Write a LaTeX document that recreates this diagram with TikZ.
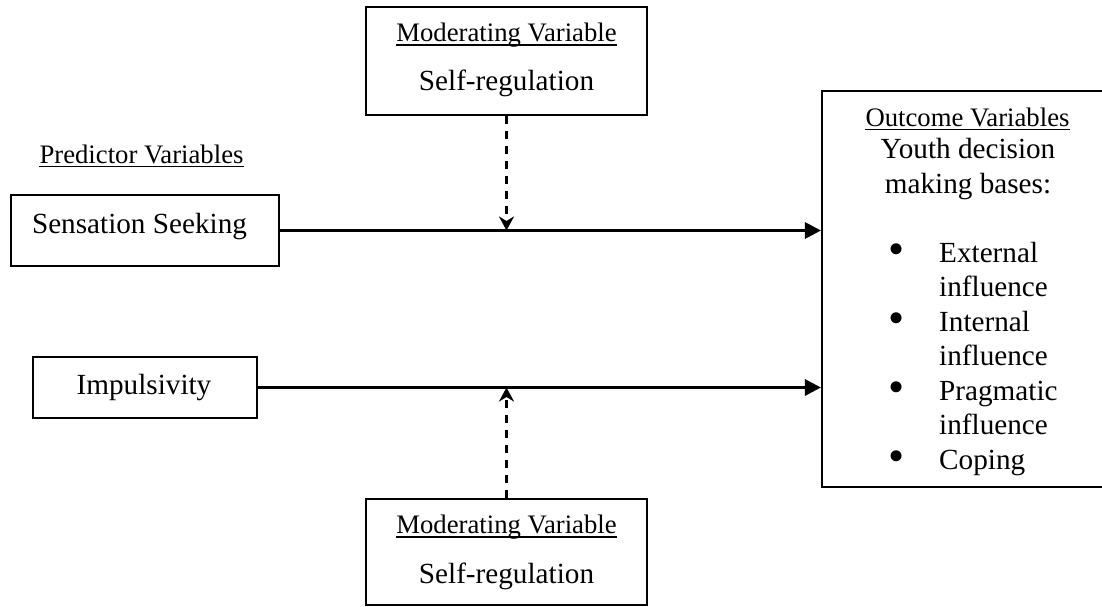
\documentclass[tikz,border=0pt]{standalone}
\usepackage{fontspec}
\setmainfont{Liberation Serif}
\usetikzlibrary{arrows.meta}
\begin{document}
\begin{tikzpicture}[x=1pt,y=-1pt,
  box/.style={draw=black,line width=2.1pt,rectangle,inner sep=0pt},
  big/.style={font=\fontsize{29.2pt}{34.5pt}\selectfont,inner sep=0pt,anchor=base},
  small/.style={font=\fontsize{26.7pt}{31pt}\selectfont,inner sep=0pt,anchor=base},
  bul/.style={font=\fontsize{46pt}{46pt}\selectfont,inner sep=0pt,anchor=center},
  mainarrow/.style={line width=3pt,-{Triangle[length=16pt,width=16pt]}},
  modarrow/.style={line width=2.8pt,dash pattern=on 8pt off 7pt,-{Stealth[length=14pt,width=15pt,inset=4.5pt]}},
  uline/.style={line width=1.5pt}]
\clip (0,0) rectangle (1102,607);
\fill[white] (0,0) rectangle (1102,607);

% boxes
\node[box,minimum width=281pt,minimum height=108pt] (modtop) at (506.5,61) {};
\node[box,minimum width=281pt,minimum height=106pt] (modbot) at (506.5,552) {};
\node[box,minimum width=268pt,minimum height=71pt] (ss) at (145,230.5) {};
\node[box,minimum width=224pt,minimum height=61pt] (imp) at (145,387.5) {};
\node[box,minimum width=290pt,minimum height=396pt] (out) at (967,289) {};

% top moderating
\node[small] (mt1) at (506.5,41.5) {Moderating Variable};
\draw[uline] ([yshift=-3.5pt]mt1.base west) -- ([yshift=-3.5pt]mt1.base east);
\node[big] (mt2) at (506.5,91) {Self-regulation};

% bottom moderating
\node[small] (mb1) at (506.5,533.5) {Moderating Variable};
\draw[uline] ([yshift=-3.5pt]mb1.base west) -- ([yshift=-3.5pt]mb1.base east);
\node[big] (mb2) at (506.5,583) {Self-regulation};

% predictors
\node[small] (pv) at (141.5,163) {Predictor Variables};
\draw[uline] ([yshift=-3.5pt]pv.base west) -- ([yshift=-3.5pt]pv.base east);
\node[big] (sst) at (139.5,233) {Sensation Seeking};
\node[big] (impt) at (144,394) {Impulsivity};

% outcome
\node[small] (ov) at (967.5,126) {Outcome Variables};
\draw[uline] ([yshift=-3.5pt]ov.base west) -- ([yshift=-3.5pt]ov.base east);
\node[big] (o1) at (968,158) {Youth decision};
\node[big] (o2) at (968,193) {making bases:};

\node[bul] (b1) at (897,254) {•};
\node[bul] (b2) at (897,323) {•};
\node[bul] (b3) at (897,392) {•};
\node[bul] (b4) at (897,461) {•};
\node[big,anchor=base west] (l1) at (939,262) {External};
\node[big,anchor=base west] (l2) at (939,296.5) {influence};
\node[big,anchor=base west] (l3) at (939,331) {Internal};
\node[big,anchor=base west] (l4) at (939,365.5) {influence};
\node[big,anchor=base west] (l5) at (939,400) {Pragmatic};
\node[big,anchor=base west] (l6) at (939,434.5) {influence};
\node[big,anchor=base west] (l7) at (939,469) {Coping};

% connectors
\draw[mainarrow] (ss.east) -- (ss.east -| out.west);
\draw[mainarrow] (imp.east) -- (imp.east -| out.west);
\draw[modarrow] (modtop.south) -- (modtop.south |- ss.east);
\draw[modarrow] (modbot.north) -- (modbot.north |- imp.east);
\end{tikzpicture}
\end{document}
